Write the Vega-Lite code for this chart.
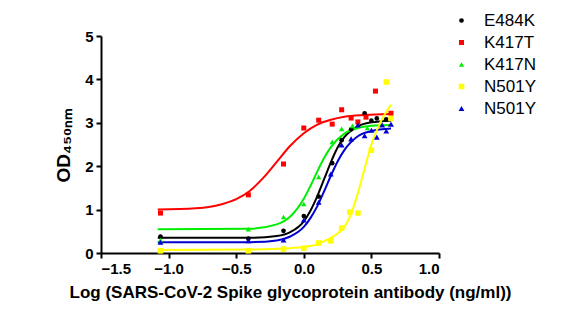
{
  "$schema": "https://vega.github.io/schema/vega-lite/v6.json",
  "width": 338,
  "height": 217,
  "autosize": {"type": "none"},
  "padding": {"left": 101, "top": 36, "right": 143, "bottom": 78},
  "background": "white",
  "config": {
    "view": {"stroke": null},
    "font": "Liberation Sans",
    "axis": {
      "domainColor": "black", "domainWidth": 2, "tickColor": "black", "tickWidth": 2, "tickSize": 5,
      "labelColor": "black", "titleColor": "black", "labelFont": "Liberation Sans", "titleFont": "Liberation Sans",
      "labelFontWeight": "bold", "titleFontWeight": "bold", "grid": false, "labelFontSize": 15, "titleFontSize": 17
    },
    "legend": {"labelFontSize": 17, "labelFont": "Liberation Sans", "labelColor": "black", "rowPadding": 4, "labelOffset": 14}
  },
  "datasets": {
    "pts": [
      {"series": "E484K", "x": -1.06, "y": 0.38}, {"series": "E484K", "x": -0.41, "y": 0.33}, {"series": "E484K", "x": -0.15, "y": 0.51},
      {"series": "E484K", "x": 0.0, "y": 0.85}, {"series": "E484K", "x": 0.11, "y": 1.3}, {"series": "E484K", "x": 0.21, "y": 2.07},
      {"series": "E484K", "x": 0.28, "y": 2.6}, {"series": "E484K", "x": 0.35, "y": 2.85}, {"series": "E484K", "x": 0.45, "y": 3.22},
      {"series": "E484K", "x": 0.5, "y": 3.05}, {"series": "E484K", "x": 0.54, "y": 3.1}, {"series": "E484K", "x": 0.61, "y": 3.08},
      {"series": "K417T", "x": -1.06, "y": 0.92}, {"series": "K417T", "x": -0.41, "y": 1.34}, {"series": "K417T", "x": -0.15, "y": 2.05},
      {"series": "K417T", "x": 0.0, "y": 2.88}, {"series": "K417T", "x": 0.11, "y": 3.06}, {"series": "K417T", "x": 0.21, "y": 2.97},
      {"series": "K417T", "x": 0.28, "y": 3.3}, {"series": "K417T", "x": 0.35, "y": 3.11}, {"series": "K417T", "x": 0.4, "y": 3.02},
      {"series": "K417T", "x": 0.46, "y": 3.13}, {"series": "K417T", "x": 0.53, "y": 3.73}, {"series": "K417T", "x": 0.645, "y": 3.22},
      {"series": "K417N", "x": -1.06, "y": 0.3}, {"series": "K417N", "x": -0.41, "y": 0.55}, {"series": "K417N", "x": -0.15, "y": 0.83},
      {"series": "K417N", "x": 0.0, "y": 1.13}, {"series": "K417N", "x": 0.11, "y": 1.75}, {"series": "K417N", "x": 0.21, "y": 2.56},
      {"series": "K417N", "x": 0.28, "y": 2.86}, {"series": "K417N", "x": 0.36, "y": 2.93}, {"series": "K417N", "x": 0.47, "y": 2.88},
      {"series": "N501Y1", "x": -1.06, "y": 0.05}, {"series": "N501Y1", "x": -0.41, "y": 0.05}, {"series": "N501Y1", "x": -0.15, "y": 0.09},
      {"series": "N501Y1", "x": 0.0, "y": 0.11}, {"series": "N501Y1", "x": 0.11, "y": 0.23}, {"series": "N501Y1", "x": 0.2, "y": 0.28},
      {"series": "N501Y1", "x": 0.28, "y": 0.57}, {"series": "N501Y1", "x": 0.34, "y": 0.94}, {"series": "N501Y1", "x": 0.4, "y": 0.92},
      {"series": "N501Y1", "x": 0.5, "y": 2.37}, {"series": "N501Y1", "x": 0.61, "y": 3.94}, {"series": "N501Y1", "x": 0.645, "y": 3.1},
      {"series": "N501Y2", "x": -1.06, "y": 0.25}, {"series": "N501Y2", "x": -0.41, "y": 0.28}, {"series": "N501Y2", "x": -0.15, "y": 0.3},
      {"series": "N501Y2", "x": 0.0, "y": 0.76}, {"series": "N501Y2", "x": 0.11, "y": 1.17}, {"series": "N501Y2", "x": 0.2, "y": 1.82},
      {"series": "N501Y2", "x": 0.28, "y": 2.49}, {"series": "N501Y2", "x": 0.35, "y": 2.63}, {"series": "N501Y2", "x": 0.4, "y": 2.95},
      {"series": "N501Y2", "x": 0.45, "y": 2.7}, {"series": "N501Y2", "x": 0.5, "y": 2.83}, {"series": "N501Y2", "x": 0.54, "y": 2.67},
      {"series": "N501Y2", "x": 0.58, "y": 2.95}, {"series": "N501Y2", "x": 0.61, "y": 2.81}, {"series": "N501Y2", "x": 0.645, "y": 2.97}
    ],
    "fit": [
      {"series": "K417T", "x": -1.08, "y": 1.0}, {"series": "K417T", "x": -0.8, "y": 1.03}, {"series": "K417T", "x": -0.6, "y": 1.13},
      {"series": "K417T", "x": -0.5, "y": 1.24}, {"series": "K417T", "x": -0.4, "y": 1.43}, {"series": "K417T", "x": -0.3, "y": 1.73},
      {"series": "K417T", "x": -0.2, "y": 2.1}, {"series": "K417T", "x": -0.1, "y": 2.47}, {"series": "K417T", "x": 0.0, "y": 2.76},
      {"series": "K417T", "x": 0.1, "y": 2.96}, {"series": "K417T", "x": 0.2, "y": 3.07}, {"series": "K417T", "x": 0.3, "y": 3.14},
      {"series": "K417T", "x": 0.45, "y": 3.18}, {"series": "K417T", "x": 0.645, "y": 3.2},
      {"series": "E484K", "x": -1.08, "y": 0.35}, {"series": "E484K", "x": -0.4, "y": 0.35}, {"series": "E484K", "x": -0.2, "y": 0.39},
      {"series": "E484K", "x": -0.1, "y": 0.48}, {"series": "E484K", "x": 0.0, "y": 0.73}, {"series": "E484K", "x": 0.05, "y": 0.98},
      {"series": "E484K", "x": 0.1, "y": 1.31}, {"series": "E484K", "x": 0.15, "y": 1.7}, {"series": "E484K", "x": 0.2, "y": 2.09},
      {"series": "E484K", "x": 0.25, "y": 2.43}, {"series": "E484K", "x": 0.3, "y": 2.67}, {"series": "E484K", "x": 0.4, "y": 2.92},
      {"series": "E484K", "x": 0.5, "y": 3.01}, {"series": "E484K", "x": 0.645, "y": 3.05},
      {"series": "K417N", "x": -1.08, "y": 0.55}, {"series": "K417N", "x": -0.4, "y": 0.56}, {"series": "K417N", "x": -0.2, "y": 0.66},
      {"series": "K417N", "x": -0.1, "y": 0.84}, {"series": "K417N", "x": 0.0, "y": 1.25}, {"series": "K417N", "x": 0.05, "y": 1.55},
      {"series": "K417N", "x": 0.1, "y": 1.88}, {"series": "K417N", "x": 0.15, "y": 2.19}, {"series": "K417N", "x": 0.2, "y": 2.44},
      {"series": "K417N", "x": 0.3, "y": 2.75}, {"series": "K417N", "x": 0.4, "y": 2.88}, {"series": "K417N", "x": 0.5, "y": 2.93},
      {"series": "K417N", "x": 0.645, "y": 2.95},
      {"series": "N501Y2", "x": -1.08, "y": 0.25}, {"series": "N501Y2", "x": -0.4, "y": 0.25}, {"series": "N501Y2", "x": -0.2, "y": 0.29},
      {"series": "N501Y2", "x": -0.1, "y": 0.38}, {"series": "N501Y2", "x": 0.0, "y": 0.6}, {"series": "N501Y2", "x": 0.05, "y": 0.81},
      {"series": "N501Y2", "x": 0.1, "y": 1.08}, {"series": "N501Y2", "x": 0.15, "y": 1.42}, {"series": "N501Y2", "x": 0.2, "y": 1.78},
      {"series": "N501Y2", "x": 0.25, "y": 2.11}, {"series": "N501Y2", "x": 0.3, "y": 2.37}, {"series": "N501Y2", "x": 0.4, "y": 2.69},
      {"series": "N501Y2", "x": 0.5, "y": 2.81}, {"series": "N501Y2", "x": 0.645, "y": 2.87},
      {"series": "N501Y1", "x": -1.08, "y": 0.07}, {"series": "N501Y1", "x": -0.4, "y": 0.08}, {"series": "N501Y1", "x": -0.2, "y": 0.1},
      {"series": "N501Y1", "x": 0.0, "y": 0.14}, {"series": "N501Y1", "x": 0.1, "y": 0.2}, {"series": "N501Y1", "x": 0.17, "y": 0.3},
      {"series": "N501Y1", "x": 0.25, "y": 0.45}, {"series": "N501Y1", "x": 0.3, "y": 0.6}, {"series": "N501Y1", "x": 0.35, "y": 0.9},
      {"series": "N501Y1", "x": 0.4, "y": 1.38}, {"series": "N501Y1", "x": 0.45, "y": 1.95}, {"series": "N501Y1", "x": 0.5, "y": 2.5},
      {"series": "N501Y1", "x": 0.55, "y": 2.9}, {"series": "N501Y1", "x": 0.6, "y": 3.2}, {"series": "N501Y1", "x": 0.645, "y": 3.42}
    ]
  },
  "layer": [
    {
      "data": {"name": "fit"},
      "mark": {"type": "line", "strokeWidth": 2, "interpolate": "monotone"},
      "encoding": {
        "x": {"field": "x", "type": "quantitative", "scale": {"domain": [-1.5, 1.0], "nice": false, "zero": false},
              "axis": {"values": [-1.5, -1.0, -0.5, 0.0, 0.5, 1.0], "format": ".1f", "title": "Log (SARS-CoV-2 Spike glycoprotein antibody (ng/ml))", "titlePadding": 8, "labelPadding": 3, "titleX": 189, "titleAlign": "center", "titleAnchor": null}},
        "y": {"field": "y", "type": "quantitative", "scale": {"domain": [0, 5], "nice": false},
              "axis": {"values": [0, 1, 2, 3, 4, 5], "title": "OD₄₅₀ₙₘ", "titleFontSize": 19, "titlePadding": 11, "labelPadding": 3}},
        "detail": {"field": "series"},
        "stroke": {"field": "series", "type": "nominal", "legend": null,
                   "scale": {"domain": ["E484K", "K417T", "K417N", "N501Y1", "N501Y2"], "range": ["#000000", "#FF0000", "#00EE00", "#FFFF00", "#0000D0"]}}
      }
    },
    {
      "data": {"name": "pts"},
      "mark": {"type": "point", "filled": true, "opacity": 1},
      "encoding": {
        "x": {"field": "x", "type": "quantitative"},
        "y": {"field": "y", "type": "quantitative"},
        "color": {"field": "series", "type": "nominal",
                  "scale": {"domain": ["E484K", "K417T", "K417N", "N501Y1", "N501Y2"], "range": ["#000000", "#FF0000", "#00EE00", "#FFFF00", "#0000D0"]},
                  "legend": {"title": null, "orient": "none", "legendX": 352, "legendY": -24, "labelExpr": "slice(datum.label, 0, 5)"}},
        "shape": {"field": "series", "type": "nominal",
                  "scale": {"domain": ["E484K", "K417T", "K417N", "N501Y1", "N501Y2"], "range": ["circle", "square", "triangle-up", "square", "triangle-up"]},
                  "legend": {"title": null, "orient": "none", "legendX": 352, "legendY": -24, "labelExpr": "slice(datum.label, 0, 5)"}},
        "size": {"field": "series", "type": "nominal",
                 "scale": {"domain": ["E484K", "K417T", "K417N", "N501Y1", "N501Y2"], "range": [22, 34, 30, 70, 80]},
                 "legend": {"title": null, "orient": "none", "legendX": 352, "legendY": -24, "labelExpr": "slice(datum.label, 0, 5)"}}
      }
    }
  ],
  "resolve": {"legend": {"stroke": "independent"}}
}
